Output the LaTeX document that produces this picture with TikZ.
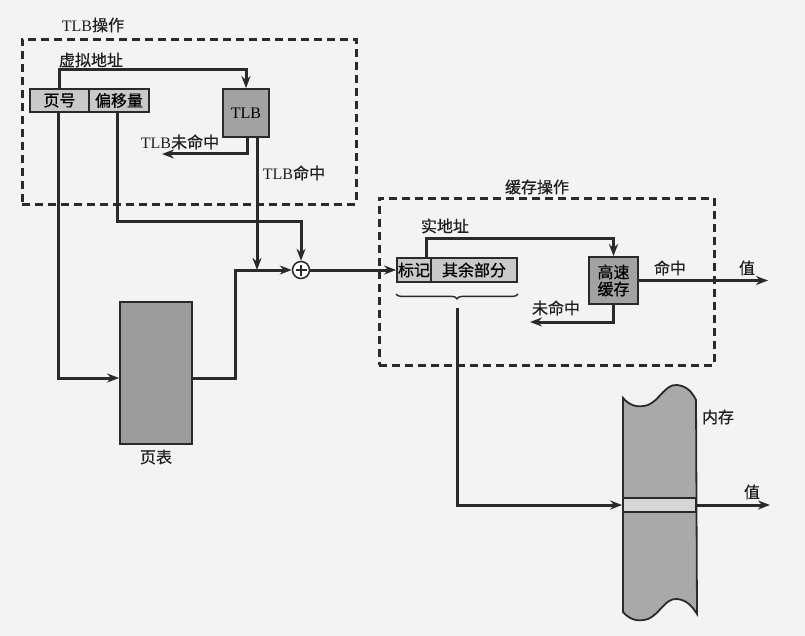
\documentclass[tikz,border=0pt]{standalone}
\usepackage{fontspec}
\setmainfont{Liberation Serif}
\newfontfamily\cjk[FakeBold=0.6]{Noto Sans CJK SC}
\usetikzlibrary{arrows.meta,calc,decorations.pathreplacing}
\definecolor{bg}{HTML}{F3F3F3}
\definecolor{linec}{HTML}{2A2A2A}
\definecolor{lightbox}{HTML}{C9C9C9}
\definecolor{darkbox}{HTML}{A2A2A2}
\definecolor{ptbox}{HTML}{9C9C9C}
\definecolor{membox}{HTML}{A9A9A9}
\definecolor{bandc}{HTML}{D6D6D6}
\begin{document}
\begin{tikzpicture}[x=1pt,y=-1pt,
  arr/.style={draw=linec,line width=3pt,-{Stealth[length=12pt,width=9pt]}},
  frame/.style={draw=linec,line width=2.8pt,dash pattern=on 8pt off 5pt,rectangle,inner sep=0pt},
  lbl/.style={font=\fontsize{16}{16}\selectfont,inner sep=0pt,text=black!88},
  boxl/.style={rectangle,draw=linec,line width=1.8pt,fill=lightbox,inner sep=0pt,font=\fontsize{16}{16}\selectfont},
  boxd/.style={rectangle,draw=linec,line width=1.8pt,fill=darkbox,inner sep=0pt,font=\fontsize{16}{16}\selectfont}]
\useasboundingbox[fill=bg] (0,0) rectangle (805,636);
% frames
\node[frame,minimum width=334pt,minimum height=165pt,anchor=north west] (tlbframe) at (21,38) {};
\node[frame,minimum width=335pt,minimum height=167pt,anchor=north west] (cacheframe) at (378,197) {};
\node[lbl] (tlbop) at (93,25) {TLB{\cjk 操作}};
\node[lbl] (cacheop) at (537,187) {\cjk 缓存操作};
% TLB part
\node[boxl,minimum width=59pt,minimum height=23pt] (vpn) at (59.5,100.5) {\cjk 页号};
\node[boxl,minimum width=60pt,minimum height=23pt] (off) at (119,100.5) {\cjk 偏移量};
\node[boxd,minimum width=46pt,minimum height=48pt] (tlb) at (246,113) {TLB};
\node[lbl] (valbl) at (91,60) {\cjk 虚拟地址};
\node[lbl] (tlbmisslbl) at (180,142) {TLB{\cjk 未命中}};
\node[lbl] (tlbhitlbl) at (294,173) {TLB{\cjk 命中}};
\coordinate (tlbmissend) at (162,154);
% page table
\node[rectangle,draw=linec,line width=1.8pt,fill=ptbox,minimum width=72pt,minimum height=142pt] (pt) at (156,373) {};
\node[lbl] (ptlbl) at (156,457) {\cjk 页表};
% adder
\node[circle,draw=linec,line width=1.5pt,fill=white,minimum size=17pt,inner sep=0pt] (sum) at (301,270) {};
\draw[linec,line width=1.2pt] ($(sum.center)+(-5.5,0)$) -- ($(sum.center)+(5.5,0)$) ($(sum.center)+(0,-5.5)$) -- ($(sum.center)+(0,5.5)$);
% cache part
\node[boxl,minimum width=34pt,minimum height=24pt] (tag) at (414,270) {\cjk 标记};
\node[boxl,minimum width=86pt,minimum height=24pt] (rest) at (474,270) {\cjk 其余部分};
\node[boxd,minimum width=49pt,minimum height=47pt,align=center,font=\fontsize{16}{17}\selectfont] (cache) at (613.5,280.5) {\cjk 高速\\[0pt]\cjk 缓存};
\node[lbl] (palbl) at (445,226) {\cjk 实地址};
\node[lbl] (hitlbl) at (670,268) {\cjk 命中};
\node[lbl] (val1) at (747,268) {\cjk 值};
\node[lbl] (misslbl) at (556,308) {\cjk 未命中};
\coordinate (hitend) at (768,280.5);
\coordinate (cmissend) at (530,322);
% memory
\fill[membox,draw=linec,line width=1.8pt]
  (623,398) .. controls (630,406) and (638,408) .. (648,405)
  .. controls (660,400) and (665,384) .. (677,385)
  .. controls (688,386) and (693,394) .. (696,400)
  -- (697,614)
  .. controls (693,608) and (688,600) .. (677,599)
  .. controls (665,598) and (660,614) .. (648,619)
  .. controls (638,622) and (630,620) .. (623,612) -- cycle;
\node[rectangle,draw=linec,line width=1.8pt,fill=bandc,minimum width=73pt,minimum height=14pt,inner sep=0pt] (band) at (659.5,505) {};
\node[lbl] (memlbl) at (718,417) {\cjk 内存};
\node[lbl] (val2) at (752,492) {\cjk 值};
\coordinate (valend) at (770,505);
% brace
\draw[linec,line width=1.4pt,decorate,decoration={brace,mirror,amplitude=5pt}]
  ($(tag.south west)+(0,11)$) -- ($(rest.south east)+(0,11)$);
\coordinate (bracetip) at (457,308);
% connectors
\draw[arr] (vpn.north) -- ++(0,-19) -| (tlb.north);
\draw[arr] ([xshift=1pt]tlb.south) |- (tlbmissend);
\draw[arr] ([xshift=11pt]tlb.south) -- ($(tlb.south)+(11,132)$);
\draw[arr] ([xshift=-2pt]off.south) -- ++(0,109) -| (sum.north);
\draw[arr] ([xshift=-1.5pt]vpn.south) |- ($(pt.west)+(0,5)$);
\draw[arr] ($(pt.east)+(0,5)$) -- ++(43,0) |- (sum.west);
\draw[arr] (sum.east) -- (tag.west);
\draw[arr] ([xshift=12pt]tag.north) -- ++(0,-19) -| (cache.north);
\draw[arr] (cache.east) -- (hitend);
\draw[arr] (cache.south) |- (cmissend);
\draw[arr] (bracetip) |- (band.west);
\draw[arr] (band.east) -- (valend);
\end{tikzpicture}
\end{document}
